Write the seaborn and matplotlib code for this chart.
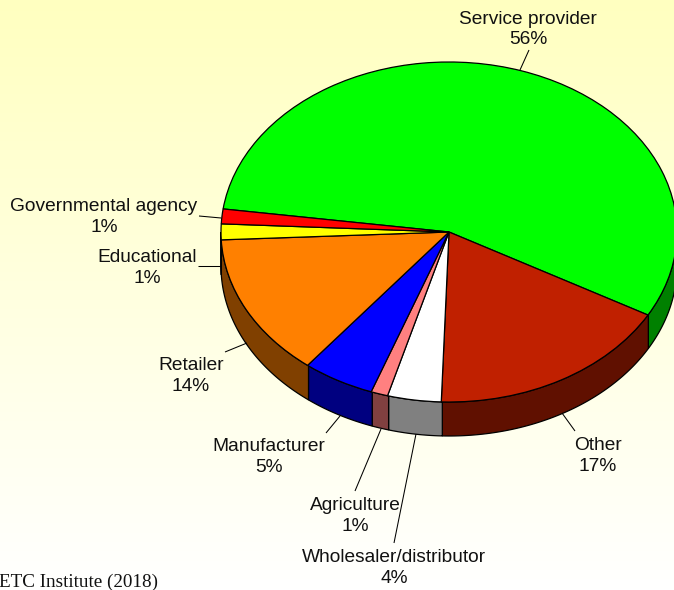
import numpy as np
import matplotlib
matplotlib.use("Agg")
import matplotlib.pyplot as plt
from matplotlib.colors import LinearSegmentedColormap
import seaborn as sns

categories = ["Service provider", "Other", "Wholesaler/distributor", "Agriculture",
              "Manufacturer", "Retailer", "Educational", "Governmental agency"]
shares = [55.9, 17.4, 3.8, 1.2, 5.1, 13.6, 1.5, 1.4]
share_labels = ["56%", "17%", "4%", "1%", "5%", "14%", "1%", "1%"]
top_hex = ["#00FF00", "#C02000", "#FFFFFF", "#FF8080", "#0000FF", "#FF8000", "#FFFF00", "#FF0000"]
wall_hex = ["#008000", "#601000", "#808080", "#804040", "#000080", "#804000", "#808000", "#800000"]
source_note = "ETC Institute (2018)"

# layout, in pixels of the 674x590 picture
W, H = 674, 590
CX, CY, RX, RY, DEPTH = 449, 232, 228, 170, 34
START_CW = 277.8  # first slice begin, clockwise from 12 o'clock
label_xy = [(528, 29.5), (598, 456), (394, 568), (355, 516), (269, 457), (191, 376), (147, 268), (104, 217)]
leaders = [((529, 50), (520, 70)), ((575, 431), (562, 413)), ((394, 543), (416, 434)),
           ((355, 491), (381, 429)), ((326, 433), (340, 416)), ((225, 352), (247, 343)),
           ((198, 266), (220, 266)), ((199, 216), (221, 218))]

sns.set_theme(style="white")
plt.rcParams["font.family"] = ["Liberation Sans", "DejaVu Sans"]
top_colors = sns.color_palette(top_hex)
wall_colors = sns.color_palette(wall_hex)

fig = plt.figure(figsize=(W / 100, H / 100), dpi=100)

# background gradient
bg = fig.add_axes([0, 0, 1, 1], zorder=0)
cmap = LinearSegmentedColormap.from_list("bg", ["#FFFFC0", "#FFFFFF"])
bg.imshow(np.linspace(0, 1, 256)[:, None], aspect="auto", cmap=cmap, extent=(0, W, H, 0))
bg.axis("off")

# pie axes: one data unit = RX px horizontally, RY px vertically
ax = fig.add_axes([0, 0, 1, 1], zorder=1)
ax.patch.set_alpha(0)
wedges, _ = ax.pie(shares, colors=top_colors, startangle=90 - START_CW, counterclock=False, radius=1,
                   wedgeprops=dict(edgecolor="black", linewidth=0.9))
for w in wedges:
    w.set_zorder(5)
ax.set_aspect("auto")
ax.set_xlim(-CX / RX, (W - CX) / RX)
ax.set_ylim((CY - H) / RY, CY / RY)

# side wall of the front half
edges = START_CW + np.cumsum([0] + shares) * 3.6
d = DEPTH / RY
for i in range(len(shares)):
    for shift in (0, 360):
        a0 = max(edges[i] - shift, 90)
        a1 = min(edges[i + 1] - shift, 270)
        if a1 <= a0:
            continue
        t = np.radians(np.linspace(a0, a1, 80))
        x, y = np.sin(t), np.cos(t)
        ax.fill(np.r_[x, x[::-1]], np.r_[y, y[::-1] - d], facecolor=wall_colors[i],
                edgecolor="black", linewidth=0.9, zorder=2)

# labels and leaders in pixel coordinates
ov = fig.add_axes([0, 0, 1, 1], zorder=2)
ov.set_xlim(0, W)
ov.set_ylim(H, 0)
ov.axis("off")
for name, pct, (x, y), (p0, p1) in zip(categories, share_labels, label_xy, leaders):
    ov.plot([p0[0], p1[0]], [p0[1], p1[1]], color="black", lw=0.75, solid_capstyle="butt")
    ov.text(x, y, f"{name}\n{pct}", ha="center", va="center", fontsize=13.8,
            color="#111111", linespacing=1.3)
ov.text(-1, 582, source_note, ha="left", va="center", fontsize=13.75,
        family=["Liberation Serif"], color="#111111")

fig.savefig("out.png", dpi=100)
